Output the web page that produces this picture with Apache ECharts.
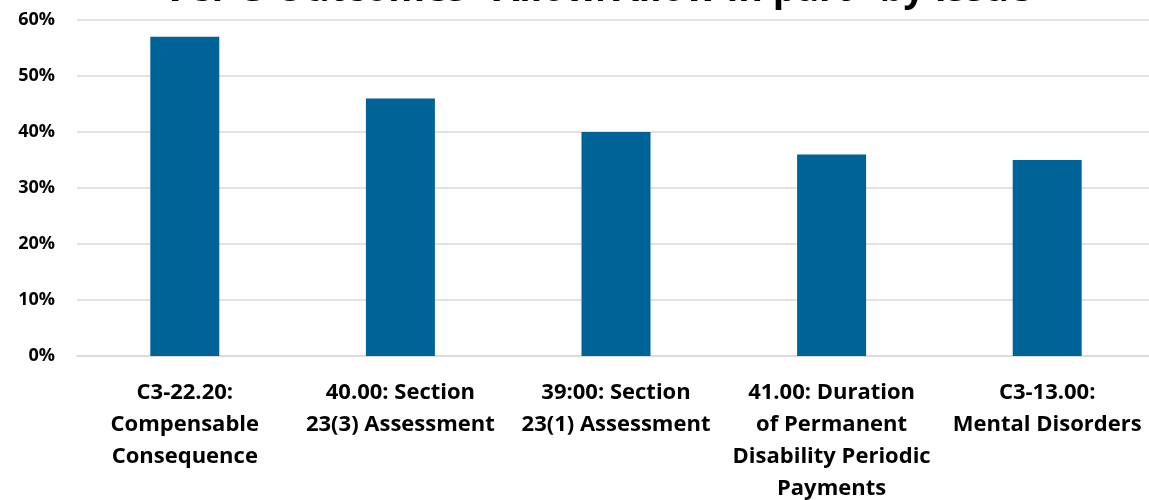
<!DOCTYPE html>
<html><head><meta charset="utf-8">
<script src="https://cdn.jsdelivr.net/npm/echarts@6/dist/echarts.min.js"></script>
<style>html,body{margin:0;padding:0;background:#fff}#c{width:1149px;height:500px}</style>
</head><body><div id="c"></div>
<script>
const titleText = 'VCF-3 Outcomes "Allow/Allow in part" by Issue';
const categories = [
  'C3-22.20:\nCompensable\nConsequence',
  '40.00: Section\n23(3) Assessment',
  '39:00: Section\n23(1) Assessment',
  '41.00: Duration\nof Permanent\nDisability Periodic\nPayments',
  'C3-13.00:\nMental Disorders'
];
const values = [57, 46, 40, 36, 35];
const yTicks = [0, 10, 20, 30, 40, 50, 60];

const chart = echarts.init(document.getElementById('c'));
chart.setOption({
  animation: false,
  title: {
    text: titleText, left: 158, top: -34,
    textStyle: {fontFamily: 'Open Sans', fontWeight: 'bold', fontSize: 37.5, color: '#000'}
  },
  grid: {left: 77, width: 1078, top: 20, bottom: 144, containLabel: false, outerBoundsMode: 'none'},
  xAxis: {
    type: 'category', data: categories,
    axisLine: {show: true, lineStyle: {color: '#d9d9d9', width: 1.5}},
    axisTick: {show: false},
    axisLabel: {interval: 0, margin: 21, fontFamily: 'Open Sans', fontWeight: 'bold', fontSize: 22, color: '#000', lineHeight: 32}
  },
  yAxis: {
    type: 'value', min: yTicks[0], max: yTicks[yTicks.length-1], interval: 10,
    axisLine: {show: false}, axisTick: {show: false},
    splitLine: {lineStyle: {color: '#d9d9d9', width: 1.5}},
    axisLabel: {margin: 22, fontFamily: 'Open Sans', fontWeight: 'bold', fontSize: 18, color: '#000', formatter: v => v + '%'}
  },
  series: [{
    type: 'bar', data: values, barWidth: 69,
    itemStyle: {color: '#006398'}
  }]
});
</script></body></html>
